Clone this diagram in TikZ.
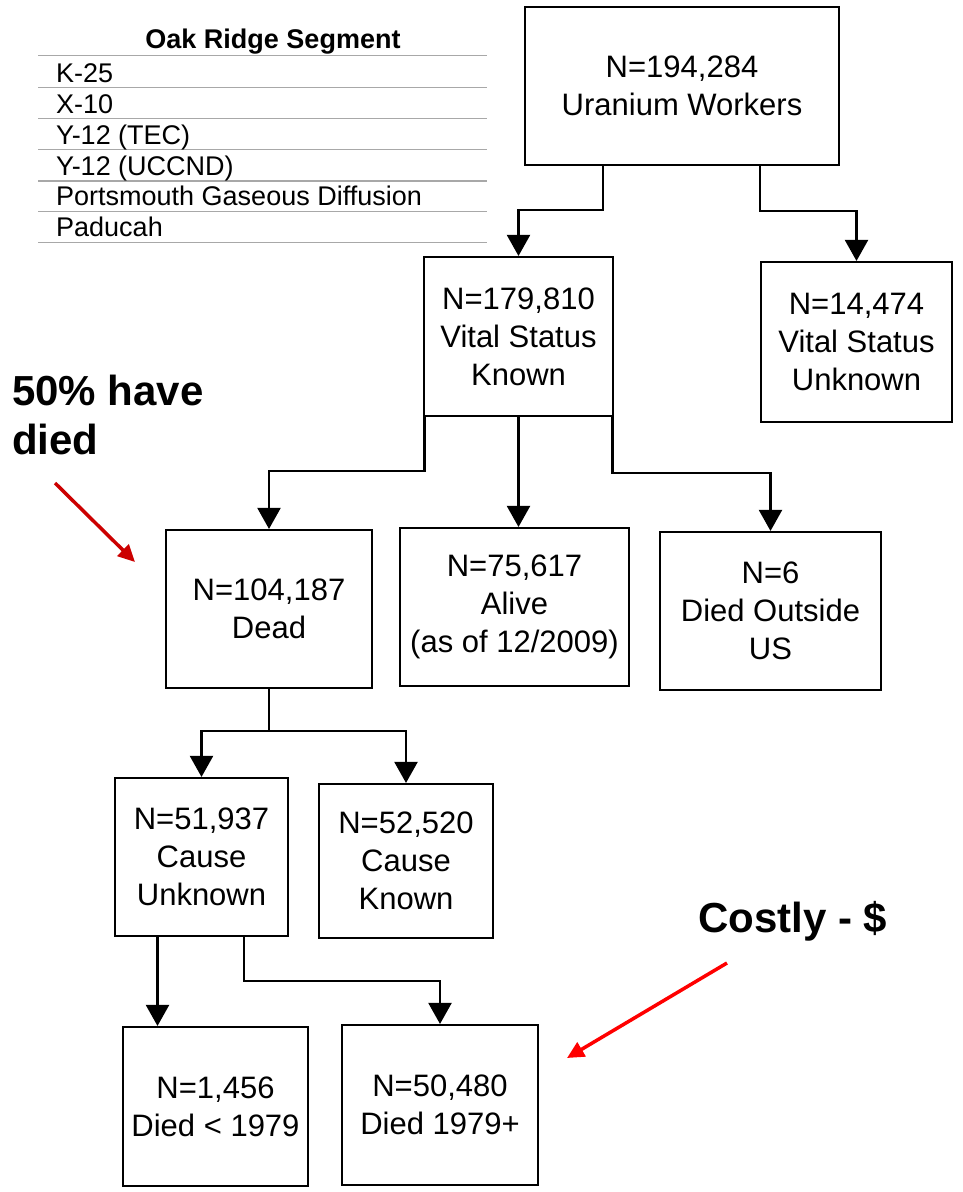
\documentclass[tikz,border=0pt]{standalone}
\usepackage{fontspec}
\setmainfont{Liberation Sans}
\usetikzlibrary{arrows.meta}
\definecolor{rulegray}{HTML}{A8A8A8}
\definecolor{darkred}{HTML}{CC0000}
\definecolor{brightred}{HTML}{FF0000}
\begin{document}
\begin{tikzpicture}[x=1pt,y=-1pt,
  box/.style={draw, line width=2.1pt, inner sep=0pt, align=center,
    font=\fontsize{31}{38}\selectfont},
  conn/.style={line width=2.1pt, -{Triangle[width=23pt,length=21pt]}},
  tabline/.style={rulegray, line width=1.4pt},
  tabtext/.style={anchor=base west, inner sep=0pt, font=\fontsize{27}{31}\selectfont},
  callout/.style={inner sep=0pt, font=\fontsize{42}{49}\selectfont\bfseries},
  pointer/.style={line width=3.5pt, -{Triangle[width=16pt,length=17pt]}}]
\useasboundingbox (0,0) rectangle (962,1192);

% segment table
\node[anchor=base, inner sep=0pt, font=\fontsize{27}{31}\selectfont\bfseries] (thead) at (273,48.3) {Oak Ridge Segment};
\foreach \yy in {55.7,87.3,118.7,149.3,181,211.7,242.7}
  \draw[tabline] (38,\yy) -- (487,\yy);
\node[tabtext] (s1) at (56,82.3) {K-25};
\node[tabtext] (s2) at (56,113.3) {X-10};
\node[tabtext] (s3) at (56,144.5) {Y-12 (TEC)};
\node[tabtext] (s4) at (56,175.3) {Y-12 (UCCND)};
\node[tabtext] (s5) at (56,205.8) {Portsmouth Gaseous Diffusion};
\node[tabtext] (s6) at (56,236.7) {Paducah};

% cohort boxes
\node[box, minimum width=314pt, minimum height=158pt] (top) at (682,86) {N=194,284\\Uranium Workers};
\node[box, minimum width=189pt, minimum height=159pt] (vsk) at (518.5,336.5) {N=179,810\\Vital Status\\Known};
\node[box, minimum width=191pt, minimum height=160pt] (vsu) at (856.5,342) {N=14,474\\Vital Status\\Unknown};
\node[box, minimum width=206pt, minimum height=158pt] (dead) at (269,609) {N=104,187\\Dead};
\node[box, minimum width=229pt, minimum height=158pt] (alive) at (514.5,607) {N=75,617\\Alive\\(as of 12/2009)};
\node[box, minimum width=221pt, minimum height=158pt] (outside) at (770.5,611) {N=6\\Died Outside\\US};
\node[box, minimum width=173pt, minimum height=158pt] (cu) at (201.5,857) {N=51,937\\Cause\\Unknown};
\node[box, minimum width=174pt, minimum height=154pt] (ck) at (406,861) {N=52,520\\Cause\\Known};
\node[box, minimum width=185pt, minimum height=159pt] (d79) at (215.5,1106.5) {N=1,456\\Died < 1979};
\node[box, minimum width=196pt, minimum height=160pt] (d79p) at (440,1105) {N=50,480\\Died 1979+};

% connectors
\draw[conn] ([xshift=-79pt]top.south) |- ([yshift=46pt]vsk.north) -- (vsk.north);
\draw[conn] ([xshift=78pt]top.south) |- ([yshift=50pt]vsu.north) -- (vsu.north);
\draw[conn] ([xshift=-94pt]vsk.south) |- ([yshift=58pt]dead.north) -- (dead.north);
\draw[conn] (vsk.south) -- (vsk.south |- alive.north);
\draw[conn] ([xshift=94pt]vsk.south) |- ([yshift=58pt]outside.north) -- (outside.north);
\draw[conn] (dead.south) |- ([yshift=46pt]cu.north) -- (cu.north);
\draw[conn] (dead.south) |- ([yshift=52pt]ck.north) -- (ck.north);
\draw[conn] ([xshift=-44pt]cu.south) -- ([xshift=-44pt]cu.south |- d79.north);
\draw[conn] ([xshift=42.5pt]cu.south) |- ([yshift=43pt]d79p.north) -- (d79p.north);

% callouts
\node[callout, anchor=north west, align=left] (died) at (12,375) {50\% have\\died};
\node[callout, anchor=base west] (costly) at (698,932.7) {Costly - \$};
\coordinate (p1s) at (55,483);
\coordinate (p1e) at (135,562);
\coordinate (p2s) at (727,963);
\coordinate (p2e) at (567,1058);
\draw[pointer, darkred] (p1s) -- (p1e);
\draw[pointer, brightred] (p2s) -- (p2e);
\end{tikzpicture}
\end{document}
